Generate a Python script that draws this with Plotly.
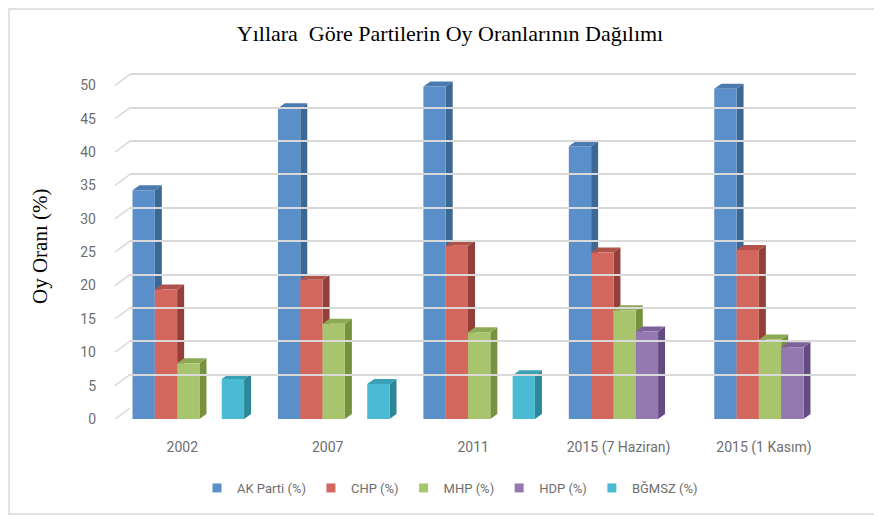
import plotly.graph_objects as go

# ---------------- data ----------------
categories = ["2002", "2007", "2011", "2015 (7 Haziran)", "2015 (1 Kasım)"]
series_names = ["AK Parti (%)", "CHP (%)", "MHP (%)", "HDP (%)", "BĞMSZ (%)"]
akp = [34.28, 46.58, 49.83, 40.87, 49.50]
chp = [19.39, 20.88, 25.98, 24.95, 25.32]
mhp = [8.36, 14.27, 13.01, 16.29, 11.90]
hdp = [None, None, None, 13.12, 10.76]
bgmsz = [6.0, 5.24, 6.57, None, None]
y_ticks = [0, 5, 10, 15, 20, 25, 30, 35, 40, 45, 50]

series_values = [akp, chp, mhp, hdp, bgmsz]

# ---------------- style ----------------
front_colors = ["#5B8FC9", "#D3675D", "#A8C46C", "#9379B0", "#4BBBD3"]
side_colors = ["#3D6893", "#94403A", "#78913F", "#644C82", "#2C8799"]
top_colors = ["#4A7AB0", "#B0524A", "#8EA956", "#7B6399", "#3AA0B5"]

OFF = 8                      # page body margin
W, H = 882 - OFF, 515 - OFF
ML, MR, MT, MB = 115 - OFF, 26, 61 - OFF, 96
paper_w = W - ML - MR
paper_h = H - MT - MB
DX_PX, DY_PX = 15, 11          # back-wall offset
XMIN, XMAX = -0.504, 4.488
YMIN, YMAX = 0, 52
main_w = paper_w - DX_PX
main_h = paper_h - DY_PX
x_per_px = (XMAX - XMIN) / main_w
y_per_px = (YMAX - YMIN) / main_h

group_width = 0.767
n_series = len(series_values)
bar_w = group_width / n_series
depth_dx = 7 * x_per_px
depth_dy = 5 * y_per_px

fig = go.Figure()

# invisible trace to carry the back-wall axes
fig.add_trace(go.Scatter(x=[None], y=[None], xaxis="x2", yaxis="y2",
                         showlegend=False, hoverinfo="skip"))

for si, vals in enumerate(series_values):
    side_x, side_y, top_x, top_y, fr_x, fr_y = [], [], [], [], [], []
    for ci, v in enumerate(vals):
        if v is None:
            continue
        x0 = ci - group_width / 2 + si * bar_w
        x1 = x0 + bar_w
        side_x += [x1, x1 + depth_dx, x1 + depth_dx, x1, x1, None]
        side_y += [0, depth_dy, v + depth_dy, v, 0, None]
        top_x += [x0, x0 + depth_dx, x1 + depth_dx, x1, x0, None]
        top_y += [v, v + depth_dy, v + depth_dy, v, v, None]
        fr_x += [x0, x1, x1, x0, x0, None]
        fr_y += [0, 0, v, v, 0, None]
    for xs, ys, col in [(side_x, side_y, side_colors[si]),
                        (top_x, top_y, top_colors[si]),
                        (fr_x, fr_y, front_colors[si])]:
        fig.add_trace(go.Scatter(x=xs, y=ys, mode="lines", fill="toself",
                                 fillcolor=col, line=dict(width=0, color=col),
                                 showlegend=False, hoverinfo="skip"))

# legend entries
for si, name in enumerate(series_names):
    fig.add_trace(go.Scatter(x=[None], y=[None], mode="markers", name=name,
                             marker=dict(symbol="square", size=9, color=front_colors[si])))

# diagonal connectors from front axis to back wall gridlines
shapes = []
for t in y_ticks:
    shapes.append(dict(type="line", xref="paper", yref="y",
                       xsizemode="pixel", xanchor=0, x0=0, x1=DX_PX,
                       ysizemode="pixel", yanchor=t, y0=0, y1=DY_PX,
                       line=dict(color="#D9D9D9", width=1.5), layer="below"))
# outer chart border
shapes.append(dict(type="rect", xref="paper", yref="paper",
                   x0=(1 - ML) / paper_w, x1=(W + 10 - ML) / paper_w,
                   y0=(H - MB - (514 - OFF)) / paper_h, y1=(H - MB - 1) / paper_h,
                   line=dict(color="#D9D9D9", width=1.5), layer="below"))

tick_font = dict(family="Roboto, sans-serif", size=14, color="#6E6E6E")

fig.update_layout(
    width=W, height=H,
    margin=dict(l=ML, r=MR, t=MT, b=MB, autoexpand=False),
    paper_bgcolor="white", plot_bgcolor="rgba(0,0,0,0)",
    title=dict(text="Yıllara  Göre Partilerin Oy Oranlarının Dağılımı",
               font=dict(family="Liberation Serif, Times New Roman, serif", size=22, color="#000000"),
               x=(450 - OFF) / W, xanchor="center", y=1 - (33 - OFF) / H, yanchor="middle"),
    xaxis=dict(domain=[0, main_w / paper_w], range=[XMIN, XMAX],
               tickmode="array", tickvals=list(range(len(categories))), ticktext=categories,
               showgrid=False, zeroline=False, showline=False, ticks="",
               tickfont=tick_font, ticklabelstandoff=18, ticklabelshift=-6),
    yaxis=dict(domain=[0, main_h / paper_h], range=[YMIN, YMAX],
               tickmode="array", tickvals=y_ticks,
               showgrid=False, zeroline=False, showline=False, ticks="",
               tickfont=tick_font, ticklabelstandoff=18),
    xaxis2=dict(domain=[DX_PX / paper_w, 1], range=[XMIN, XMAX], anchor="y2",
                showgrid=False, zeroline=False, showticklabels=False, ticks=""),
    yaxis2=dict(domain=[DY_PX / paper_h, 1], range=[YMIN, YMAX], anchor="x2",
                tickmode="array", tickvals=y_ticks,
                showgrid=True, gridcolor="#D9D9D9", gridwidth=1.5,
                zeroline=False, showticklabels=False, ticks=""),
    legend=dict(orientation="h", xref="container", yref="container",
                x=(450 - OFF) / W, xanchor="center", y=1 - (488 - OFF) / H, yanchor="middle",
                font=dict(family="Roboto, sans-serif", size=13, color="#6E6E6E"),
                itemwidth=30, tracegroupgap=0),
    annotations=[dict(text="Oy Oranı (%)", textangle=-90, xref="paper", yref="paper",
                      x=0, xshift=-(115 - 40), y=(419 - 247) / paper_h, yanchor="middle",
                      xanchor="center", showarrow=False,
                      font=dict(family="Liberation Serif, Times New Roman, serif", size=21, color="#000000"))],
    shapes=shapes,
    showlegend=True,
)

fig.write_html("out.html")
